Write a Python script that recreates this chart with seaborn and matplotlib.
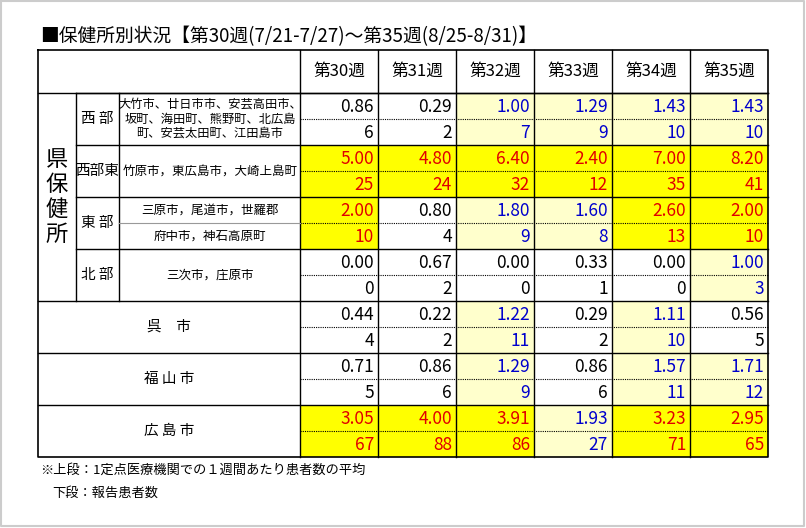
import numpy as np
import pandas as pd
import seaborn as sns
import matplotlib.pyplot as plt
from matplotlib.colors import ListedColormap

plt.rcParams['font.family'] = ['Noto Sans CJK JP', 'DejaVu Sans']

weeks = ['第30週', '第31週', '第32週', '第33週', '第34週', '第35週']
areas = ['西部', '西部東', '東部', '北部', '呉市', '福山市', '広島市']
rates = [
    [0.86, 0.29, 1.00, 1.29, 1.43, 1.43],
    [5.00, 4.80, 6.40, 2.40, 7.00, 8.20],
    [2.00, 0.80, 1.80, 1.60, 2.60, 2.00],
    [0.00, 0.67, 0.00, 0.33, 0.00, 1.00],
    [0.44, 0.22, 1.22, 0.29, 1.11, 0.56],
    [0.71, 0.86, 1.29, 0.86, 1.57, 1.71],
    [3.05, 4.00, 3.91, 1.93, 3.23, 2.95],
]
counts = [
    [6, 2, 7, 9, 10, 10],
    [25, 24, 32, 12, 35, 41],
    [10, 4, 9, 8, 13, 10],
    [0, 2, 0, 1, 0, 3],
    [4, 2, 11, 2, 10, 5],
    [5, 6, 9, 6, 11, 12],
    [67, 88, 86, 27, 71, 65],
]

# level: 0 below 1.0, 1 from 1.0, 2 from 2.0
levels = np.repeat(np.digitize(np.array(rates), [1.0, 2.0]), 2, axis=0)
level_df = pd.DataFrame(levels, columns=weeks)
text_colors = ['#000000', '#0000cc', '#e00000']

W, H = 806, 528
fig = plt.figure(figsize=(W / 100, H / 100), dpi=100)
ax = fig.add_axes([0, 0, 1, 1])
ax.set_xlim(0, W)
ax.set_ylim(H, 0)
ax.axis('off')

x0, x1 = 300, 768
top, head, rh = 50, 93, 26
y_end = head + rh * 2 * len(areas)

hax = fig.add_axes([x0 / W, 1 - y_end / H, (x1 - x0) / W, (y_end - head) / H])
sns.heatmap(level_df, ax=hax, cmap=ListedColormap(['#ffffff', '#ffffcc', '#ffff00']),
            vmin=-0.5, vmax=2.5, cbar=False, xticklabels=False, yticklabels=False)
hax.axis('off')
ax.set_zorder(2)
ax.patch.set_alpha(0)

# light frame around the picture
ax.plot([1, W - 2, W - 2, 1, 1], [1, 1, H - 2, H - 2, 1], color='#cccccc', lw=1.5)

cw = (x1 - x0) / len(weeks)
ax.text(40, 37, '■保健所別状況【第30週(7/21-7/27)～第35週(8/25-8/31)】', fontsize=13.5, va='center')

ax.plot([38, x1, x1, 38, 38], [top, top, y_end, y_end, top], color='black', lw=1.2)
ax.plot([38, x1], [head, head], color='black', lw=1)
for i in range(len(weeks)):
    xa = x0 + i * cw
    ax.plot([xa, xa], [top, y_end], color='black', lw=1)
    ax.text(xa + cw / 2, (top + head) / 2, weeks[i], fontsize=12, ha='center', va='center')

for r in range(len(areas)):
    ya = head + r * 2 * rh
    xs = 76 if r < 4 else 38
    ax.plot([xs, x1], [ya, ya], color='black', lw=1)
    ax.plot([x0, x1], [ya + rh, ya + rh], color='black', lw=0.8, ls=(0, (1, 1)))
    for c in range(len(weeks)):
        col = text_colors[levels[2 * r, c]]
        xr = x0 + (c + 1) * cw - 4
        ax.text(xr, ya + rh / 2 + 1, f'{rates[r][c]:.2f}', fontsize=12.5, ha='right', va='center', color=col)
        ax.text(xr, ya + rh * 1.5 + 1, f'{counts[r][c]}', fontsize=12.5, ha='right', va='center', color=col)

ax.plot([76, 76], [head, head + 8 * rh], color='black', lw=1)
ax.plot([119, 119], [head, head + 8 * rh], color='black', lw=1)
ax.plot([119, x0], [head + 5 * rh, head + 5 * rh], color='#999999', lw=0.8)
ax.text(57, head + 4 * rh, '県\n保\n健\n所', fontsize=16, ha='center', va='center', linespacing=1.1)
names = ['西 部', '西部東', '東 部', '北 部']
for r, nm in enumerate(names):
    ax.text(97.5, head + (2 * r + 1) * rh, nm, fontsize=10.5, ha='center', va='center')
ax.text(210, head + rh, '大竹市、廿日市市、安芸高田市、\n坂町、海田町、熊野町、北広島\n町、安芸太田町、江田島市',
        fontsize=8.8, ha='center', va='center', linespacing=1.15)
ax.text(210, head + 3 * rh, '竹原市，東広島市，大崎上島町', fontsize=9, ha='center', va='center')
ax.text(210, head + 4.5 * rh, '三原市，尾道市，世羅郡', fontsize=9, ha='center', va='center')
ax.text(210, head + 5.5 * rh, '府中市，神石高原町', fontsize=9, ha='center', va='center')
ax.text(210, head + 7 * rh, '三次市，庄原市', fontsize=9, ha='center', va='center')
for r, nm in zip([4, 5, 6], ['呉　市', '福 山 市', '広 島 市']):
    ax.text(169, head + (2 * r + 1) * rh, nm, fontsize=10.5, ha='center', va='center')

ax.text(40, 470, '※上段：1定点医療機関での１週間あたり患者数の平均', fontsize=9.5, va='center')
ax.text(52, 493, '下段：報告患者数', fontsize=9.5, va='center')

fig.savefig('out.png', dpi=100)
